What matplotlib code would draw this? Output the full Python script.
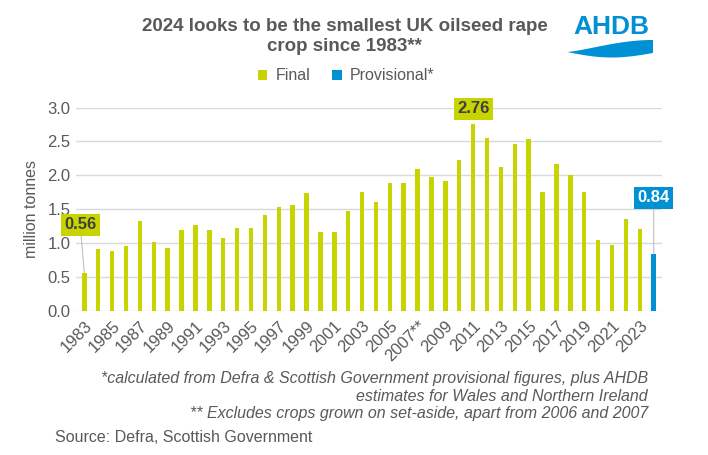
import numpy as np
import matplotlib
matplotlib.use("Agg")
import matplotlib.pyplot as plt

plt.rcParams["font.family"] = ["Liberation Sans", "DejaVu Sans"]

# anos e producao (milhoes de toneladas)
anos = list(range(1983, 2025))
final = [0.56, 0.92, 0.89, 0.96, 1.32, 1.02, 0.93, 1.20, 1.27, 1.20,
         1.08, 1.23, 1.23, 1.41, 1.53, 1.56, 1.74, 1.16, 1.16, 1.47,
         1.76, 1.60, 1.89, 1.88, 2.10, 1.97, 1.91, 2.22, 2.76, 2.55,
         2.12, 2.46, 2.53, 1.76, 2.16, 2.00, 1.75, 1.04, 0.98, 1.35,
         1.21]
provisorio = [0.84]
rotulos = [str(a) if a != 2007 else "2007**" for a in anos[:-1:2]]

VERDE = "#C8D400"
AZUL = "#0090D4"
CINZA = "#595959"

fig = plt.figure(figsize=(7.08, 4.55), dpi=100)
ax = fig.add_axes([76 / 708, 1 - 311 / 455, 586 / 708, 203.5 / 455])

x = np.arange(len(anos))
ax.bar(x[:-1], final, width=0.32, color=VERDE, label="Final")
ax.bar(x[-1:], provisorio, width=0.32, color=AZUL, label="Provisional*")

ax.set_xlim(-0.6, len(anos) - 0.4)
ax.set_ylim(0, 3.0)
ax.set_yticks(np.arange(0, 3.01, 0.5))
ax.set_yticklabels([f"{v:.1f}" for v in np.arange(0, 3.01, 0.5)])
ax.set_xticks(x[:-1:2])
ax.set_xticklabels(rotulos, rotation=45, ha="right", rotation_mode="anchor")
ax.tick_params(axis="both", length=0, labelsize=12, colors=CINZA, pad=4)
ax.tick_params(axis="x", pad=5)
ax.grid(axis="y", color="#D9D9D9", linewidth=1)
ax.set_axisbelow(True)
for s in ax.spines.values():
    s.set_visible(False)
ax.set_ylabel("million tonnes", fontsize=11.5, color=CINZA, labelpad=6)

# rotulos de dados com linha de chamada
def rotulo(i, valor, xt, yt, fundo, cor_txt):
    ax.annotate(f"{valor:.2f}", xy=(i, valor), xytext=(xt, yt),
                textcoords="data", ha="center", va="center",
                fontsize=12, fontweight="bold", color=cor_txt,
                bbox=dict(boxstyle="square,pad=0.2", fc=fundo, ec="none"),
                arrowprops=dict(arrowstyle="-", color="#BFBFBF", lw=0.8,
                                shrinkA=0, shrinkB=0))

rotulo(0, final[0], -0.3, 1.27, VERDE, "#404040")
ax.annotate(f"{final[28]:.2f}", xy=(28, 2.98), ha="center", va="center",
            fontsize=12, fontweight="bold", color="#404040",
            bbox=dict(boxstyle="square,pad=0.2", fc=VERDE, ec="none"),
            annotation_clip=False)
rotulo(41, provisorio[0], 41, 1.67, AZUL, "white")

fig.text(0.487, 0.96, "2024 looks to be the smallest UK oilseed rape\ncrop since 1983**",
         ha="center", va="top", fontsize=13.5, fontweight="bold",
         color=CINZA, linespacing=1.25)

fig.legend(loc="center", bbox_to_anchor=(0.489, 1 - 76 / 455), ncol=2,
           frameon=False, fontsize=11.5, handlelength=0.6, handleheight=0.6,
           columnspacing=1.4, handletextpad=0.5, labelcolor=CINZA)

# logo AHDB (aproximado)
fig.text(611 / 708, 1 - 27 / 455, "AHDB", ha="center", va="center",
         fontsize=19, fontweight="bold", color=AZUL)
t = np.linspace(0, 1, 80)
wx = 567 + 86 * t
topo = 52 - 12 * np.sin(t * np.pi / 2) ** 1.3
base = 52 + 5 * np.sin(np.pi * t) + 1 * t
fig.patches.append(plt.Polygon(
    np.column_stack([np.r_[wx, wx[::-1]] / 708,
                     1 - np.r_[topo, base[::-1]] / 455]),
    closed=True, transform=fig.transFigure, fc=AZUL, ec="none"))

notas = ("*calculated from Defra & Scottish Government provisional figures, plus AHDB\n"
         "estimates for Wales and Northern Ireland\n"
         "** Excludes crops grown on set-aside, apart from 2006 and 2007")
fig.text(648 / 708, 1 - 371 / 455, notas, ha="right", va="top",
         fontsize=11.5, style="italic", color=CINZA, linespacing=1.22)
fig.text(55 / 708, 1 - 438 / 455, "Source: Defra, Scottish Government",
         ha="left", va="center", fontsize=11.5, color=CINZA)

fig.savefig("out.png", dpi=100)
